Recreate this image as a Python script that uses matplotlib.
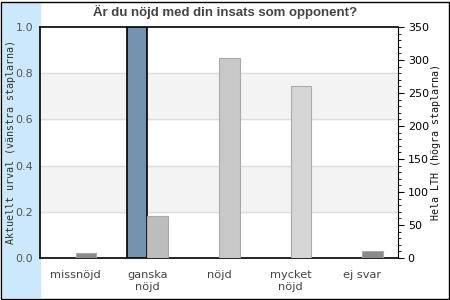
import matplotlib
matplotlib.use("Agg")
import matplotlib.pyplot as plt
from matplotlib.patches import Rectangle
from matplotlib.ticker import MultipleLocator
import numpy as np

title = "Är du nöjd med din insats som opponent?"
categories = ["missnöjd", "ganska\nnöjd", "nöjd", "mycket\nnöjd", "ej svar"]
urval = [0, 1.0, 0, 0, 0]          # left axis (share)
hela_lth = [7, 64, 303, 260, 10]   # right axis (count)
right_colors = ["#8a8a8a", "#bdbdbd", "#c8c8c8", "#d6d6d6", "#8a8a8a"]

fig = plt.figure(figsize=(4.5, 3), dpi=100)
fig.patch.set_facecolor("white")

# light blue strip and frame
fig.patches.append(Rectangle((3 / 450, 3 / 300), 37 / 450, 294 / 300,
                             transform=fig.transFigure, color="#cce8fc", zorder=-1))
fig.patches.append(Rectangle((1 / 450, 1 / 300), 448 / 450, 297 / 300,
                             transform=fig.transFigure, fill=False,
                             edgecolor="black", linewidth=1, zorder=5))

ax = fig.add_axes([40 / 450, 42 / 300, 358 / 450, 231 / 300])
ax.set_facecolor("white")
x = np.arange(len(categories))
w = 0.288

ax.axhspan(0.2, 0.4, color="#f3f3f3", zorder=0)
ax.axhspan(0.6, 0.8, color="#f3f3f3", zorder=0)
for g in [0.2, 0.4, 0.6, 0.8]:
    ax.axhline(g, color="#dddddd", linewidth=1, zorder=0.5)

ax.bar(x - w, urval, width=w, align="edge", color="#7393ae",
       edgecolor="black", linewidth=[1.2 if v > 0 else 0 for v in urval], zorder=3)
ax.set_xlim(-0.5, 4.5)
ax.set_ylim(0, 1.0)
ax.set_yticks([0, 0.2, 0.4, 0.6, 0.8, 1.0])
ax.set_yticklabels(["0.0", "0.2", "0.4", "0.6", "0.8", "1.0"],
                   fontsize=8, color="#555555")
ax.tick_params(axis="y", length=0, pad=5)
ax.set_xticks(x)
ax.set_xticklabels(categories, fontsize=8.2, color="#444444", linespacing=1.25)
ax.tick_params(axis="x", length=0, pad=9)
ax.set_ylabel("Aktuellt urval (vänstra staplarna)", family="DejaVu Sans Mono",
              fontsize=7.2, color="#333333")
ax.yaxis.set_label_coords(-24 / 358, 0.5)
for s in ["left", "bottom", "top"]:
    ax.spines[s].set_linewidth(1.2)
ax.spines["right"].set_visible(False)

ax2 = ax.twinx()
ax2.bar(x, hela_lth, width=w, align="edge", color=right_colors,
        edgecolor="#aaaaaa", linewidth=0.8, zorder=3)
ax2.set_ylim(0, 350)
ax2.yaxis.set_major_locator(MultipleLocator(50))
ax2.yaxis.set_minor_locator(MultipleLocator(10))
ax2.tick_params(axis="y", which="major", length=4, labelsize=8, pad=3)
ax2.tick_params(axis="y", which="minor", length=2)
ax2.set_ylabel("Hela LTH (högra staplarna)", family="DejaVu Sans Mono",
               fontsize=7.2, color="#111111")
ax2.yaxis.set_label_coords(1 + 33 / 358, 0.5)
for s in ["left", "bottom", "top"]:
    ax2.spines[s].set_visible(False)
ax2.spines["right"].set_linewidth(0.8)

fig.text(0.5, 1 - 12 / 300, title, ha="center", va="center",
         fontsize=9.5, fontweight="bold", color="#444444", family="Liberation Sans")

fig.savefig("out.png", dpi=100)
